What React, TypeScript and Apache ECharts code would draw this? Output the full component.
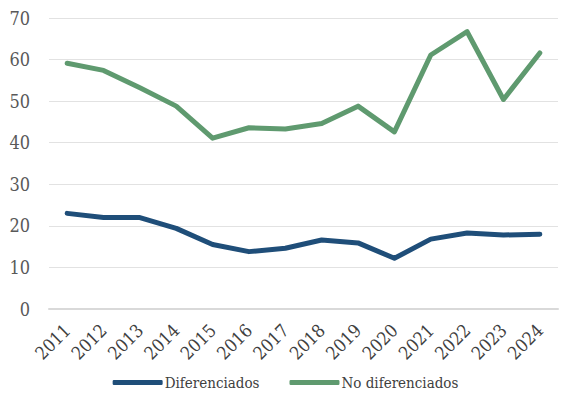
import React, { useEffect, useRef } from "react";
import * as echarts from "echarts";

const years = ["2011", "2012", "2013", "2014", "2015", "2016", "2017", "2018", "2019", "2020", "2021", "2022", "2023", "2024"];
const diferenciados = [23.0, 22.0, 22.0, 19.4, 15.5, 13.8, 14.6, 16.6, 15.9, 12.2, 16.8, 18.3, 17.8, 18.0];
const noDiferenciados = [59.1, 57.4, 53.2, 48.8, 41.1, 43.6, 43.3, 44.6, 48.8, 42.6, 61.1, 66.7, 50.4, 61.6];

const FONT = "DejaVu Serif Condensed, DejaVu Serif";

export default function App() {
  const ref = useRef<HTMLDivElement>(null);
  useEffect(() => {
    if (!ref.current) return;
    const chart = echarts.init(ref.current, undefined, { renderer: "svg" });
    chart.setOption({
      animation: false,
      backgroundColor: "#ffffff",
      textStyle: { fontFamily: FONT },
      grid: { left: 49, right: 13, top: 18, bottom: 86, containLabel: false },
      legend: {
        top: 370,
        left: "center",
        icon: "roundRect",
        itemWidth: 50,
        itemHeight: 5,
        itemGap: 30,
        textStyle: { fontFamily: FONT, fontSize: 15, color: "#404040", padding: [0, 0, 0, -3] },
        data: ["Diferenciados", "No diferenciados"],
      },
      xAxis: {
        type: "category",
        data: years,
        boundaryGap: true,
        axisLine: { show: true, lineStyle: { color: "#d9d9d9", width: 2 } },
        axisTick: { show: false },
        axisLabel: { rotate: 45, margin: 18, fontFamily: FONT, fontSize: 18, color: "#404040", interval: 0 },
      },
      yAxis: {
        type: "value",
        min: 0,
        max: 70,
        interval: 10,
        axisLine: { show: false },
        axisTick: { show: false },
        axisLabel: { margin: 19, fontFamily: FONT, fontSize: 18, color: "#595959" },
        splitLine: { lineStyle: { color: "#e2e2e2", width: 1 } },
      },
      series: [
        {
          name: "Diferenciados",
          type: "line",
          data: diferenciados,
          symbol: "none",
          lineStyle: { color: "#1f4e79", width: 5, cap: "round", join: "round" },
          itemStyle: { color: "#1f4e79" },
        },
        {
          name: "No diferenciados",
          type: "line",
          data: noDiferenciados,
          symbol: "none",
          lineStyle: { color: "#5f9a6f", width: 5, cap: "round", join: "round" },
          itemStyle: { color: "#5f9a6f" },
        },
      ],
    });
    return () => chart.dispose();
  }, []);
  return <div ref={ref} style={{ position: "fixed", left: 0, top: 0, width: 571, height: 395 }} />;
}
